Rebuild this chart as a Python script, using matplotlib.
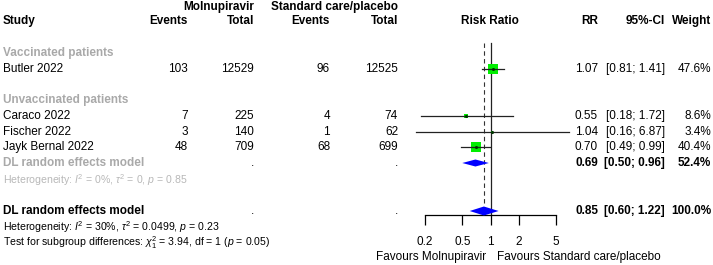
import numpy as np
import matplotlib.pyplot as plt

plt.rcParams['font.family'] = ['Liberation Sans', 'DejaVu Sans']
plt.rcParams['mathtext.fontset'] = 'custom'
plt.rcParams['mathtext.rm'] = 'Liberation Sans'
plt.rcParams['mathtext.it'] = 'Liberation Sans:italic'

# data
studies = ["Butler 2022", "Caraco 2022", "Fischer 2022", "Jayk Bernal 2022"]
ev_mol = [103, 7, 3, 48]
n_mol = [12529, 225, 140, 709]
ev_sc = [96, 4, 1, 68]
n_sc = [12525, 74, 62, 699]
rr = [1.07, 0.55, 1.04, 0.70]
ci_lo = [0.81, 0.18, 0.16, 0.49]
ci_hi = [1.41, 1.72, 6.87, 0.99]
weight = [47.6, 8.6, 3.4, 40.4]

sub_rr, sub_lo, sub_hi, sub_w = 0.69, 0.50, 0.96, 52.4
all_rr, all_lo, all_hi, all_w = 0.85, 0.60, 1.22, 100.0
ticks = [0.2, 0.5, 1, 2, 5]

# layout (pixels)
W, H = 713, 265
row_y = [69, 116, 132, 147]
y_vac, y_unvac = 53, 100
y_sub, y_subhet = 163, 180
y_all, y_het, y_test = 211, 227, 243
x_study, x_ev1, x_n1, x_ev2, x_n2 = 3, 188, 254, 330, 398
x_rr, x_ci, x_w = 598, 665, 711
grey = '#a9a9a9'
fs = 8.5
fs_small = 7.6

fig = plt.figure(figsize=(W / 100, H / 100), dpi=100)
ax = fig.add_axes([0, 0, 1, 1])
ax.set_xlim(0, W)
ax.set_ylim(H, 0)
ax.axis('off')

# headers
ax.text(x_n1, 7, "Molnupiravir", ha='right', va='center', fontsize=fs, fontweight='bold')
ax.text(x_n2, 7, "Standard care/placebo", ha='right', va='center', fontsize=fs, fontweight='bold')
ax.text(x_study, 21, "Study", ha='left', va='center', fontsize=fs, fontweight='bold')
for x, s in [(x_ev1, "Events"), (x_n1, "Total"), (x_ev2, "Events"), (x_n2, "Total"),
             (x_rr, "RR"), (x_ci, "95%-CI"), (x_w, "Weight")]:
    ax.text(x, 21, s, ha='right', va='center', fontsize=fs, fontweight='bold')
ax.text(490, 21, "Risk Ratio", ha='center', va='center', fontsize=fs, fontweight='bold')

ax.text(x_study, y_vac, "Vaccinated patients", ha='left', va='center', fontsize=fs,
        fontweight='bold', color=grey)
ax.text(x_study, y_unvac, "Unvaccinated patients", ha='left', va='center', fontsize=fs,
        fontweight='bold', color=grey)

for i, y in enumerate(row_y):
    ax.text(x_study, y, studies[i], ha='left', va='center', fontsize=fs)
    ax.text(x_ev1, y, str(ev_mol[i]), ha='right', va='center', fontsize=fs)
    ax.text(x_n1, y, str(n_mol[i]), ha='right', va='center', fontsize=fs)
    ax.text(x_ev2, y, str(ev_sc[i]), ha='right', va='center', fontsize=fs)
    ax.text(x_n2, y, str(n_sc[i]), ha='right', va='center', fontsize=fs)
    ax.text(x_rr, y, f"{rr[i]:.2f}", ha='right', va='center', fontsize=fs)
    ax.text(x_ci, y, f"[{ci_lo[i]:.2f}; {ci_hi[i]:.2f}]", ha='right', va='center', fontsize=fs)
    ax.text(x_w, y, f"{weight[i]:.1f}%", ha='right', va='center', fontsize=fs)

for y, label, col, r, lo, hi, w in [(y_sub, "DL random effects model", grey, sub_rr, sub_lo, sub_hi, sub_w),
                                    (y_all, "DL random effects model", 'black', all_rr, all_lo, all_hi, all_w)]:
    ax.text(x_study, y, label, ha='left', va='center', fontsize=fs, fontweight='bold', color=col)
    ax.text(x_n1, y, ".", ha='right', va='center', fontsize=fs)
    ax.text(x_n2, y, ".", ha='right', va='center', fontsize=fs)
    ax.text(x_rr, y, f"{r:.2f}", ha='right', va='center', fontsize=fs, fontweight='bold')
    ax.text(x_ci, y, f"[{lo:.2f}; {hi:.2f}]", ha='right', va='center', fontsize=fs, fontweight='bold')
    ax.text(x_w, y, f"{w:.1f}%", ha='right', va='center', fontsize=fs, fontweight='bold')

ax.text(x_study, y_subhet, r"Heterogeneity: $I^2$ = 0%, $\tau^2$ = 0, $p$ = 0.85",
        ha='left', va='center', fontsize=fs_small, color='#b8b8b8')
ax.text(x_study, y_het, r"Heterogeneity: $I^2$ = 30%, $\tau^2$ = 0.0499, $p$ = 0.23",
        ha='left', va='center', fontsize=fs_small)
ax.text(x_study, y_test, r"Test for subgroup differences: $\chi^2_1$ = 3.94, df = 1 ($p$ = 0.05)",
        ha='left', va='center', fontsize=fs_small)

ax.text(486, 257, "Favours Molnupiravir", ha='right', va='center', fontsize=fs)
ax.text(497, 257, "Favours Standard care/placebo", ha='left', va='center', fontsize=fs)

# forest panel
fx = fig.add_axes([425 / W, 0, 131 / W, 1])
fx.set_xscale('log')
fx.set_xlim(0.2, 5)
fx.set_ylim(H, 0)
fx.patch.set_alpha(0)
for s in ['top', 'left', 'right']:
    fx.spines[s].set_visible(False)
fx.spines['bottom'].set_position(('data', 215))
fx.spines['bottom'].set_linewidth(0.9)
fx.set_yticks([])
fx.set_xticks(ticks)
fx.set_xticklabels([str(t) for t in ticks])
fx.xaxis.set_minor_locator(plt.NullLocator())
fx.tick_params(axis='x', length=7.2, width=0.9, pad=8, labelsize=fs)

fx.plot([1, 1], [43, 215], color='#222222', lw=0.9, clip_on=False)
fx.plot([all_rr, all_rr], [43, 205], color='#333333', lw=0.8, ls=(0, (4, 3)), clip_on=False)

for i, y in enumerate(row_y):
    side = 1.45 * np.sqrt(weight[i])
    fx.scatter([rr[i]], [y], s=(side * 0.72) ** 2, marker='s', color='#00ee00',
               linewidths=0, zorder=3, clip_on=False)
    fx.plot([ci_lo[i], ci_hi[i]], [y, y], color='#222222', lw=0.9, zorder=4, clip_on=False)
    fx.scatter([rr[i]], [y], s=1.5, color='#003300', zorder=5, clip_on=False)

for y, r, lo, hi, hh in [(y_sub, sub_rr, sub_lo, sub_hi, 3.5), (y_all, all_rr, all_lo, all_hi, 4.5)]:
    fx.fill([lo, r, hi, r], [y, y - hh, y, y + hh], color='#0000ff', lw=0, zorder=3, clip_on=False)

fig.savefig("out.png", dpi=100, facecolor='white')
